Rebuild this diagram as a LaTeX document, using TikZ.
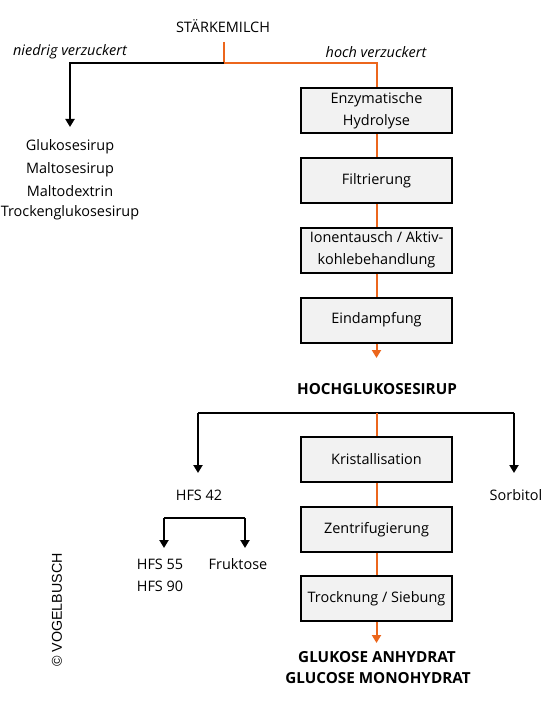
\documentclass[tikz,border=0pt]{standalone}
\usepackage{fontspec}
\setmainfont{Open Sans}
\newfontfamily\arialf{Liberation Sans}
\usetikzlibrary{arrows.meta}
\definecolor{boxgray}{RGB}{242,242,242}
\definecolor{flow}{RGB}{236,102,28}
\newcommand{\regfont}{\fontsize{14.5}{22}\selectfont}
\newcommand{\boldfnt}{\fontsize{15.3}{22}\selectfont\bfseries}
\begin{document}
\begin{tikzpicture}[x=1bp,y=-1bp,
  txt/.style={inner sep=0pt, font=\regfont},
  btxt/.style={inner sep=0pt, font=\boldfnt},
  proc/.style={draw=black, line width=2bp, fill=boxgray, minimum width=151bp, minimum height=45bp,
    inner sep=0pt, align=center, font=\regfont},
  oline/.style={draw=flow, line width=2bp},
  bline/.style={draw=black, line width=2bp},
  tip/.style={-{Triangle[width=9bp,length=8bp]}}
]
\useasboundingbox (0,0) rectangle (546,714);
% top
\node[txt] (start) at (223,26) {STÄRKEMILCH};
\node[txt, font=\regfont\itshape] (nv) at (70,52) {niedrig verzuckert};
\node[txt, font=\regfont\itshape] (hv) at (376,52) {hoch verzuckert};
\coordinate (s0) at (224,42);
\coordinate (s1) at (224,63);
\coordinate (lft) at (70,63);
\coordinate (ltip) at (70,127);
\coordinate (rgt) at (376.5,63);
% left list
\node[txt] (g1) at (70,147) {Glukosesirup};
\node[txt] (g2) at (70,169.5) {Maltosesirup};
\node[txt] (g3) at (70,191.5) {Maltodextrin};
\node[txt] (g4) at (70,213) {Trockenglukosesirup};
% process boxes
\node[proc] (b1) at (376.5,110.5) {Enzymatische\\Hydrolyse};
\node[proc] (b2) at (376.5,180.5) {Filtrierung};
\node[proc] (b3) at (376.5,250) {Ionentausch / Aktiv-\\kohlebehandlung};
\node[proc] (b4) at (376.5,320) {Eindampfung};
\node[btxt] (hgs) at (377,389) {HOCHGLUKOSESIRUP};
\coordinate (b4tip) at (376.5,358);
% connectors top part
\draw[oline] (s0) -- (s1) -- (rgt) -- (b1.north);
\draw[bline, tip] (s1) -- (lft) -- (ltip);
\draw[oline] (b1.south) -- (b2.north);
\draw[oline] (b2.south) -- (b3.north);
\draw[oline] (b3.south) -- (b4.north);
\draw[oline, tip] (b4.south) -- (b4tip);
% lower part
\coordinate (h0) at (376.5,413);
\coordinate (hl) at (198,413);
\coordinate (hr) at (514,413);
\coordinate (hltip) at (198,473);
\coordinate (hrtip) at (514,473);
\node[proc] (k1) at (376.5,459.5) {Kristallisation};
\node[proc] (k2) at (376.5,529.5) {Zentrifugierung};
\node[proc] (k3) at (376.5,598.5) {Trocknung / Siebung};
\node[txt] (hfs42) at (199,495) {HFS 42};
\node[txt] (sorb) at (516,495) {Sorbitol};
\draw[bline] (hl) -- (hr);
\draw[bline, tip] (hl) -- (hltip);
\draw[bline, tip] (hr) -- (hrtip);
\draw[oline] (h0) -- (k1.north);
\draw[oline] (k1.south) -- (k2.north);
\draw[oline] (k2.south) -- (k3.north);
\coordinate (k3tip) at (376.5,643);
\draw[oline, tip] (k3.south) -- (k3tip);
% HFS branch
\coordinate (fl) at (164,518);
\coordinate (fr) at (245,518);
\coordinate (fltip) at (164,548);
\coordinate (frtip) at (245,548);
\draw[bline] (fl) -- (fr);
\draw[bline, tip] (fl) -- (fltip);
\draw[bline, tip] (fr) -- (frtip);
\node[txt] (hfs55) at (160,564) {HFS 55};
\node[txt] (hfs90) at (160,586) {HFS 90};
\node[txt] (fruk) at (238,564) {Fruktose};
% products
\node[btxt] (ga) at (377,657) {GLUKOSE ANHYDRAT};
\node[btxt] (gm) at (378,678) {GLUCOSE MONOHYDRAT};
% copyright
\node[inner sep=0pt, rotate=90, font=\arialf\fontsize{14.3}{16}\selectfont] (copy) at (57,610) {© VOGELBUSCH};
\end{tikzpicture}
\end{document}
